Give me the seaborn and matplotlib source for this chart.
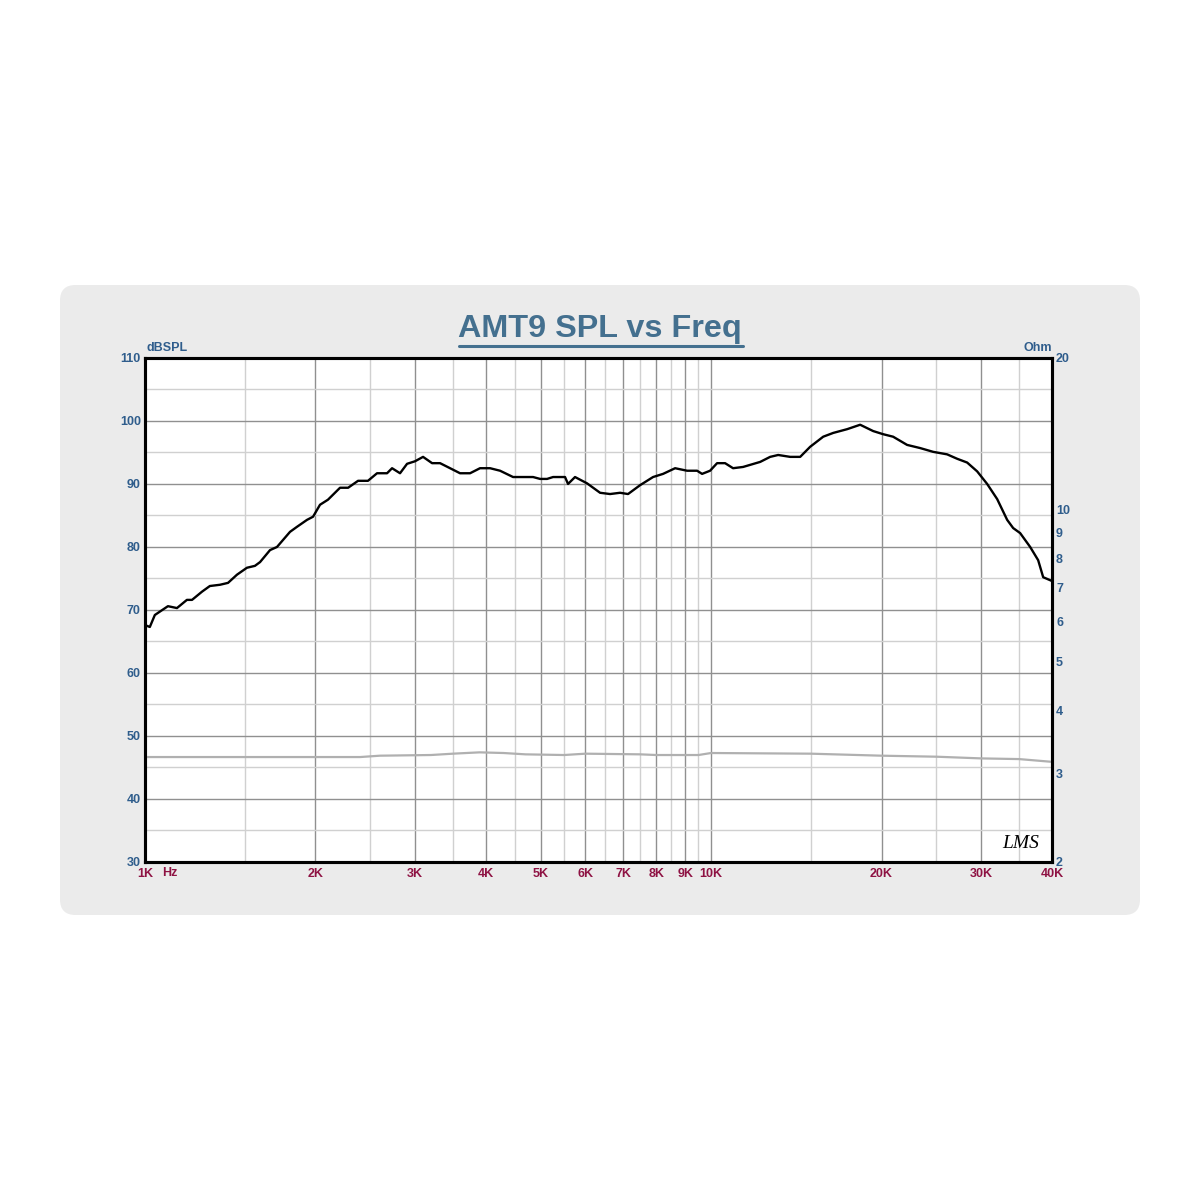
import matplotlib
matplotlib.use("Agg")
import matplotlib.pyplot as plt
import seaborn as sns
from matplotlib.patches import FancyBboxPatch
from matplotlib.lines import Line2D
from matplotlib.ticker import NullFormatter, NullLocator

# SPL curve (Hz, dB)
spl_freq = [1000, 1020, 1041, 1098, 1139, 1186, 1211, 1261, 1302, 1357, 1402, 1454, 1514,
            1564, 1597, 1663, 1711, 1804, 1856, 1933, 1981, 2038, 2105, 2211, 2285, 2379,
            2477, 2570, 2677, 2732, 2822, 2904, 2999, 3099, 3215, 3321, 3459, 3602, 3752,
            3907, 4070, 4239, 4469, 4655, 4848, 4989, 5132, 5259, 5521, 5589, 5750, 6038,
            6367, 6631, 6906, 7134, 7490, 7898, 8226, 8639, 9071, 9447, 9641, 9959, 10247,
            10586, 10935, 11390, 12210, 12715, 13137, 13795, 14368, 14963, 15778, 16433,
            17396, 18337, 19329, 20132, 20968, 22193, 23398, 24673, 26119, 27204, 28334,
            29512, 30737, 32015, 33343, 34166, 35151, 36611, 37823, 38603, 40000]
spl_db = [67.6, 67.3, 69.2, 70.6, 70.3, 71.6, 71.6, 72.9, 73.8, 74.0, 74.3, 75.6, 76.7,
          77.0, 77.6, 79.5, 80.0, 82.4, 83.2, 84.3, 84.8, 86.7, 87.5, 89.4, 89.4, 90.5,
          90.5, 91.7, 91.7, 92.5, 91.7, 93.2, 93.6, 94.3, 93.3, 93.3, 92.5, 91.7, 91.7,
          92.5, 92.5, 92.1, 91.1, 91.1, 91.1, 90.8, 90.8, 91.1, 91.1, 90.0, 91.1, 90.1,
          88.6, 88.4, 88.6, 88.4, 89.8, 91.1, 91.6, 92.5, 92.1, 92.1, 91.6, 92.1, 93.3,
          93.3, 92.5, 92.7, 93.5, 94.3, 94.6, 94.3, 94.3, 95.9, 97.5, 98.1,
          98.7, 99.4, 98.4, 97.9, 97.5, 96.2, 95.7, 95.1, 94.7, 94.0, 93.4,
          92.0, 90.0, 87.6, 84.3, 83.0, 82.2, 80.0, 77.9, 75.2, 74.6]

# impedance curve (Hz, Ohm)
imp_freq = [1000, 2400, 2600, 3200, 3500, 3900, 4300, 4700, 5500, 6000, 7500, 8000,
            9500, 10000, 15000, 20000, 25000, 30000, 35000, 40000]
imp_ohm = [3.23, 3.23, 3.25, 3.26, 3.28, 3.30, 3.29, 3.27, 3.26, 3.28, 3.27, 3.26,
           3.26, 3.29, 3.28, 3.25, 3.235, 3.21, 3.20, 3.16]

# ticks
x_major = [1000, 2000, 3000, 4000, 5000, 6000, 7000, 8000, 9000, 10000, 20000, 30000, 40000]
x_labels = ["1K", "2K", "3K", "4K", "5K", "6K", "7K", "8K", "9K", "10K", "20K", "30K", "40K"]
x_minor = [1500, 2500, 3500, 4500, 5500, 6500, 7500, 8500, 9500, 15000, 25000, 35000]
y_major = [30, 40, 50, 60, 70, 80, 90, 100, 110]
y_minor = [35, 45, 55, 65, 75, 85, 95, 105]
ohm_ticks = [2, 3, 4, 5, 6, 7, 8, 9, 10, 20]

BLUE = "#2f5d8c"
RED = "#8e1243"
TITLE = "#44708f"

sns.set_style("white")
plt.rcParams["font.family"] = ["Liberation Sans", "DejaVu Sans"]

fig = plt.figure(figsize=(12, 12), dpi=100)
fig.patch.set_facecolor("white")

# grey rounded panel behind the chart
panel = FancyBboxPatch((0.05, 0.2375), 0.9, 0.525,
                       boxstyle="round,pad=0,rounding_size=0.013",
                       transform=fig.transFigure, facecolor="#ebebeb",
                       edgecolor="none", zorder=0)
fig.add_artist(panel)

ax = fig.add_axes([0.1208, 0.2817, 0.7558, 0.42])
ax.set_facecolor("white")
ax.set_xscale("log")

sns.lineplot(x=spl_freq, y=spl_db, ax=ax, color="black", lw=1.7,
             estimator=None, sort=False, zorder=3)

ax.set_xlim(1000, 40000)
ax.set_ylim(30, 110)
ax.set_xticks(x_major)
ax.set_xticklabels(x_labels)
ax.set_xticks(x_minor, minor=True)
ax.xaxis.set_minor_formatter(NullFormatter())
ax.set_yticks(y_major)
ax.set_yticks(y_minor, minor=True)
ax.set_xlabel("")
ax.set_ylabel("")

ax.grid(which="major", color="#909090", lw=1.0)
ax.grid(which="minor", color="#d0d0d0", lw=1.0)
ax.tick_params(axis="both", which="both", length=0)
ax.tick_params(axis="x", colors=RED, labelsize=9, pad=4)
ax.tick_params(axis="y", colors=BLUE, labelsize=9, pad=3)
for lab in ax.get_xticklabels() + ax.get_yticklabels():
    lab.set_fontweight("bold")

# impedance on the right axis
ax2 = ax.twinx()
ax2.set_yscale("log")
sns.lineplot(x=imp_freq, y=imp_ohm, ax=ax2, color="#b0b0b0", lw=1.6,
             estimator=None, sort=False)
ax2.set_ylim(2, 20)
ax2.set_xlim(1000, 40000)
ax2.set_yticks(ohm_ticks)
ax2.set_yticklabels([str(t) for t in ohm_ticks])
ax2.yaxis.set_minor_locator(NullLocator())
ax2.set_ylabel("")
ax2.tick_params(axis="y", which="both", length=0, colors=BLUE, labelsize=9, pad=3)
for lab in ax2.get_yticklabels():
    lab.set_fontweight("bold")

for a in (ax, ax2):
    for sp in a.spines.values():
        sp.set_color("black")
        sp.set_linewidth(2.2)

# axis unit labels
ax.text(0.002, 1.008, "dBSPL", transform=ax.transAxes, ha="left", va="bottom",
        color=BLUE, fontsize=9, fontweight="bold")
ax.text(1.0, 1.008, "Ohm", transform=ax.transAxes, ha="right", va="bottom",
        color=BLUE, fontsize=9, fontweight="bold")
ax.text(0.019, -0.022, "Hz", transform=ax.transAxes, ha="left", va="center",
        color=RED, fontsize=9, fontweight="bold")
ax.text(0.965, 0.036, "LMS", transform=ax.transAxes, ha="center", va="center",
        color="black", fontsize=14, fontstyle="italic", family="Liberation Serif")

# underlined title
fig.text(0.5, 0.7262, "AMT9 SPL vs Freq", ha="center", va="center",
         fontsize=23.3, fontweight="bold", color=TITLE)
fig.add_artist(Line2D([459 / 1200, 743 / 1200], [1 - 346 / 1200, 1 - 346 / 1200],
                      transform=fig.transFigure, color=TITLE, lw=2.2))

fig.savefig("out.png", dpi=100, facecolor="white")
